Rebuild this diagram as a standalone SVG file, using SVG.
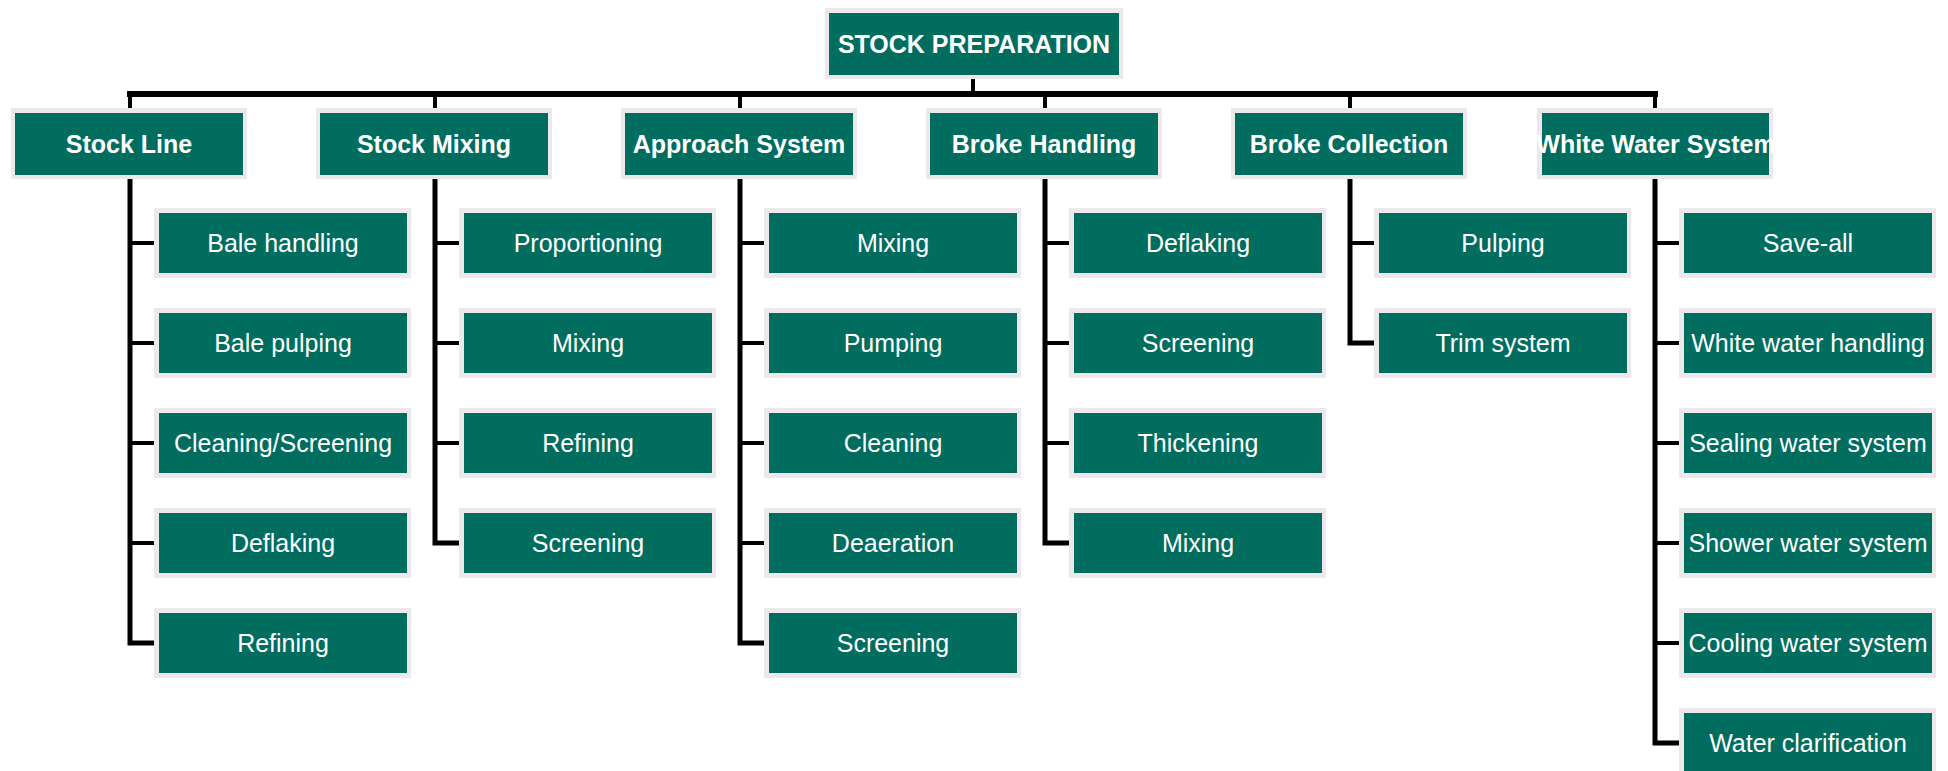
<svg xmlns="http://www.w3.org/2000/svg" width="1948" height="771" viewBox="0 0 1948 771">
<style>
.bg{fill:#ECE8EC}
.fg{fill:#006D5F}
.t1{font-family:"Liberation Sans",Arial,sans-serif;font-size:25px;font-weight:bold;fill:#FFFFFF;text-anchor:middle}
.t2{font-family:"Liberation Sans",Arial,sans-serif;font-size:25px;fill:#FFFFFF;text-anchor:middle}
.bar{stroke:#000;stroke-width:6;fill:none}
.drop{stroke:#000;stroke-width:4;fill:none}
.vert{stroke:#000;stroke-width:5;fill:none;stroke-linejoin:miter}
.stub{stroke:#000;stroke-width:4;fill:none}
</style>
<defs>
<clipPath id="cwws"><rect x="1537" y="107" width="237" height="72"/></clipPath>
</defs>
<rect x="0" y="0" width="1948" height="771" fill="#FFFFFF"/>
<g id="connectors">
<line class="drop" x1="973" y1="79" x2="973" y2="94"/>
<line class="bar" x1="127" y1="94" x2="1658" y2="94"/>
<line class="drop" x1="130" y1="94" x2="130" y2="108"/>
<line class="drop" x1="435" y1="94" x2="435" y2="108"/>
<line class="drop" x1="740" y1="94" x2="740" y2="108"/>
<line class="drop" x1="1045" y1="94" x2="1045" y2="108"/>
<line class="drop" x1="1350" y1="94" x2="1350" y2="108"/>
<line class="drop" x1="1655" y1="94" x2="1655" y2="108"/>
<!-- col 0 -->
<path class="vert" d="M130 179 V643 H154"/>
<line class="stub" x1="130" y1="243" x2="154" y2="243"/>
<line class="stub" x1="130" y1="343" x2="154" y2="343"/>
<line class="stub" x1="130" y1="443" x2="154" y2="443"/>
<line class="stub" x1="130" y1="543" x2="154" y2="543"/>
<!-- col 1 -->
<path class="vert" d="M435 179 V543 H459"/>
<line class="stub" x1="435" y1="243" x2="459" y2="243"/>
<line class="stub" x1="435" y1="343" x2="459" y2="343"/>
<line class="stub" x1="435" y1="443" x2="459" y2="443"/>
<!-- col 2 -->
<path class="vert" d="M740 179 V643 H764"/>
<line class="stub" x1="740" y1="243" x2="764" y2="243"/>
<line class="stub" x1="740" y1="343" x2="764" y2="343"/>
<line class="stub" x1="740" y1="443" x2="764" y2="443"/>
<line class="stub" x1="740" y1="543" x2="764" y2="543"/>
<!-- col 3 -->
<path class="vert" d="M1045 179 V543 H1069"/>
<line class="stub" x1="1045" y1="243" x2="1069" y2="243"/>
<line class="stub" x1="1045" y1="343" x2="1069" y2="343"/>
<line class="stub" x1="1045" y1="443" x2="1069" y2="443"/>
<!-- col 4 -->
<path class="vert" d="M1350 179 V343 H1374"/>
<line class="stub" x1="1350" y1="243" x2="1374" y2="243"/>
<!-- col 5 -->
<path class="vert" d="M1655 179 V743 H1679"/>
<line class="stub" x1="1655" y1="243" x2="1679" y2="243"/>
<line class="stub" x1="1655" y1="343" x2="1679" y2="343"/>
<line class="stub" x1="1655" y1="443" x2="1679" y2="443"/>
<line class="stub" x1="1655" y1="543" x2="1679" y2="543"/>
<line class="stub" x1="1655" y1="643" x2="1679" y2="643"/>
</g>
<g id="root"><rect class="bg" x="825" y="8" width="298" height="71"/><rect class="fg" x="829" y="13" width="290" height="62"/><text class="t1" x="974" y="53">STOCK PREPARATION</text></g>

<g id="stock-line"><rect class="bg" x="11" y="108" width="236" height="71"/><rect class="fg" x="15" y="113" width="228" height="62"/><text class="t1" x="129" y="153">Stock Line</text></g>
<g id="stock-mixing"><rect class="bg" x="316" y="108" width="236" height="71"/><rect class="fg" x="320" y="113" width="228" height="62"/><text class="t1" x="434" y="153">Stock Mixing</text></g>
<g id="approach-system"><rect class="bg" x="621" y="108" width="236" height="71"/><rect class="fg" x="625" y="113" width="228" height="62"/><text class="t1" x="739" y="153">Approach System</text></g>
<g id="broke-handling"><rect class="bg" x="926" y="108" width="236" height="71"/><rect class="fg" x="930" y="113" width="228" height="62"/><text class="t1" x="1044" y="153">Broke Handling</text></g>
<g id="broke-collection"><rect class="bg" x="1231" y="108" width="236" height="71"/><rect class="fg" x="1235" y="113" width="228" height="62"/><text class="t1" x="1349" y="153">Broke Collection</text></g>
<g id="white-water-system"><rect class="bg" x="1537" y="108" width="236" height="71"/><rect class="fg" x="1542" y="113" width="227" height="62"/><text class="t1" x="1656" y="153" clip-path="url(#cwws)">White Water System</text></g>

<g id="sl-1"><rect class="bg" x="154" y="208" width="257" height="70"/><rect class="fg" x="159" y="213" width="248" height="60"/><text class="t2" x="283" y="252">Bale handling</text></g>
<g id="sl-2"><rect class="bg" x="154" y="308" width="257" height="70"/><rect class="fg" x="159" y="313" width="248" height="60"/><text class="t2" x="283" y="352">Bale pulping</text></g>
<g id="sl-3"><rect class="bg" x="154" y="408" width="257" height="70"/><rect class="fg" x="159" y="413" width="248" height="60"/><text class="t2" x="283" y="452">Cleaning/Screening</text></g>
<g id="sl-4"><rect class="bg" x="154" y="508" width="257" height="70"/><rect class="fg" x="159" y="513" width="248" height="60"/><text class="t2" x="283" y="552">Deflaking</text></g>
<g id="sl-5"><rect class="bg" x="154" y="608" width="257" height="70"/><rect class="fg" x="159" y="613" width="248" height="60"/><text class="t2" x="283" y="652">Refining</text></g>

<g id="sm-1"><rect class="bg" x="459" y="208" width="257" height="70"/><rect class="fg" x="464" y="213" width="248" height="60"/><text class="t2" x="588" y="252">Proportioning</text></g>
<g id="sm-2"><rect class="bg" x="459" y="308" width="257" height="70"/><rect class="fg" x="464" y="313" width="248" height="60"/><text class="t2" x="588" y="352">Mixing</text></g>
<g id="sm-3"><rect class="bg" x="459" y="408" width="257" height="70"/><rect class="fg" x="464" y="413" width="248" height="60"/><text class="t2" x="588" y="452">Refining</text></g>
<g id="sm-4"><rect class="bg" x="459" y="508" width="257" height="70"/><rect class="fg" x="464" y="513" width="248" height="60"/><text class="t2" x="588" y="552">Screening</text></g>

<g id="as-1"><rect class="bg" x="764" y="208" width="257" height="70"/><rect class="fg" x="769" y="213" width="248" height="60"/><text class="t2" x="893" y="252">Mixing</text></g>
<g id="as-2"><rect class="bg" x="764" y="308" width="257" height="70"/><rect class="fg" x="769" y="313" width="248" height="60"/><text class="t2" x="893" y="352">Pumping</text></g>
<g id="as-3"><rect class="bg" x="764" y="408" width="257" height="70"/><rect class="fg" x="769" y="413" width="248" height="60"/><text class="t2" x="893" y="452">Cleaning</text></g>
<g id="as-4"><rect class="bg" x="764" y="508" width="257" height="70"/><rect class="fg" x="769" y="513" width="248" height="60"/><text class="t2" x="893" y="552">Deaeration</text></g>
<g id="as-5"><rect class="bg" x="764" y="608" width="257" height="70"/><rect class="fg" x="769" y="613" width="248" height="60"/><text class="t2" x="893" y="652">Screening</text></g>

<g id="bh-1"><rect class="bg" x="1069" y="208" width="257" height="70"/><rect class="fg" x="1074" y="213" width="248" height="60"/><text class="t2" x="1198" y="252">Deflaking</text></g>
<g id="bh-2"><rect class="bg" x="1069" y="308" width="257" height="70"/><rect class="fg" x="1074" y="313" width="248" height="60"/><text class="t2" x="1198" y="352">Screening</text></g>
<g id="bh-3"><rect class="bg" x="1069" y="408" width="257" height="70"/><rect class="fg" x="1074" y="413" width="248" height="60"/><text class="t2" x="1198" y="452">Thickening</text></g>
<g id="bh-4"><rect class="bg" x="1069" y="508" width="257" height="70"/><rect class="fg" x="1074" y="513" width="248" height="60"/><text class="t2" x="1198" y="552">Mixing</text></g>

<g id="bc-1"><rect class="bg" x="1374" y="208" width="257" height="70"/><rect class="fg" x="1379" y="213" width="248" height="60"/><text class="t2" x="1503" y="252">Pulping</text></g>
<g id="bc-2"><rect class="bg" x="1374" y="308" width="257" height="70"/><rect class="fg" x="1379" y="313" width="248" height="60"/><text class="t2" x="1503" y="352">Trim system</text></g>

<g id="ww-1"><rect class="bg" x="1679" y="208" width="257" height="70"/><rect class="fg" x="1684" y="213" width="248" height="60"/><text class="t2" x="1808" y="252">Save-all</text></g>
<g id="ww-2"><rect class="bg" x="1679" y="308" width="257" height="70"/><rect class="fg" x="1684" y="313" width="248" height="60"/><text class="t2" x="1808" y="352">White water handling</text></g>
<g id="ww-3"><rect class="bg" x="1679" y="408" width="257" height="70"/><rect class="fg" x="1684" y="413" width="248" height="60"/><text class="t2" x="1808" y="452">Sealing water system</text></g>
<g id="ww-4"><rect class="bg" x="1679" y="508" width="257" height="70"/><rect class="fg" x="1684" y="513" width="248" height="60"/><text class="t2" x="1808" y="552">Shower water system</text></g>
<g id="ww-5"><rect class="bg" x="1679" y="608" width="257" height="70"/><rect class="fg" x="1684" y="613" width="248" height="60"/><text class="t2" x="1808" y="652">Cooling water system</text></g>
<g id="ww-6"><rect class="bg" x="1679" y="708" width="257" height="70"/><rect class="fg" x="1684" y="713" width="248" height="60"/><text class="t2" x="1808" y="752">Water clarification</text></g>
</svg>
